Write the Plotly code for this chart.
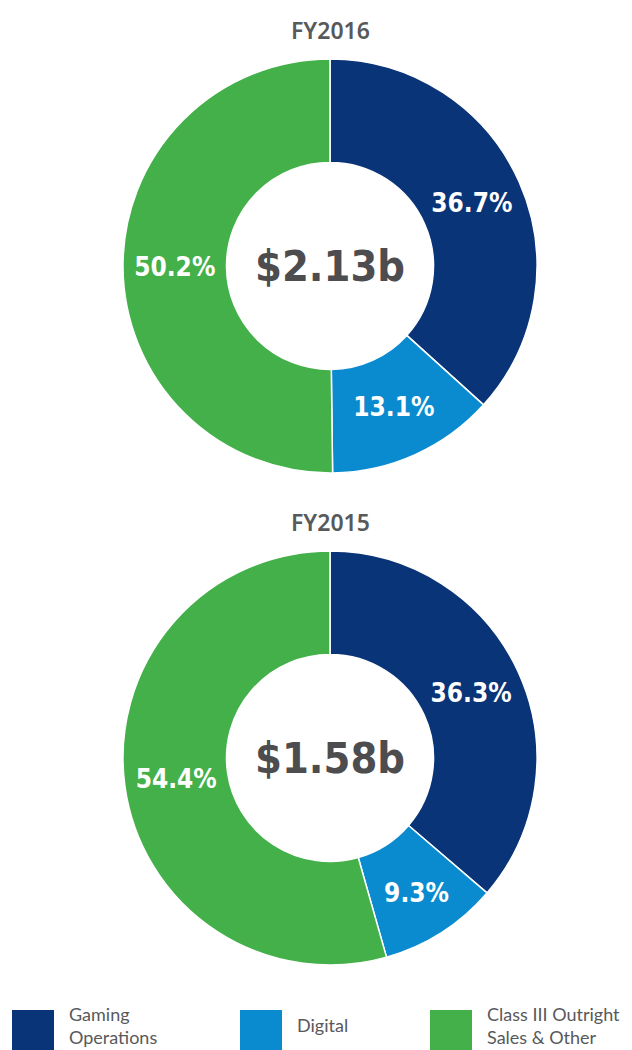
import plotly.graph_objects as go

segments = ["Gaming Operations", "Digital", "Class III Outright Sales & Other"]
fy2016_values = [36.7, 13.1, 50.2]
fy2015_values = [36.3, 9.3, 54.4]
titles = ["FY2016", "FY2015"]
totals = ["$2.13b", "$1.58b"]
legend_labels = ["Gaming<br>Operations", "Digital", "Class III Outright<br>Sales & Other"]
colors = ["#0a3478", "#0a8bcf", "#43b049"]

OFF = 8  # page body margin
W, H = 632 - OFF, 1050 - OFF
cx = 330 - OFF
r = 207
centers_y = [266 - OFF, 758 - OFF]

COND = "DejaVu Sans Condensed, Liberation Sans Narrow, Roboto"

fig = go.Figure()
for vals, cy, title, total in zip([fy2016_values, fy2015_values], centers_y, titles, totals):
    fig.add_trace(go.Pie(
        labels=segments, values=vals, sort=False, direction="clockwise", rotation=0,
        hole=0.5,
        marker=dict(colors=colors, line=dict(color="white", width=1.5)),
        texttemplate="%{value:.1f}%", textposition="inside",
        insidetextorientation="horizontal",
        textfont=dict(family=COND, size=26, color="white", weight="bold"),
        domain=dict(x=[(cx - r) / W, (cx + r) / W], y=[1 - (cy + r) / H, 1 - (cy - r) / H]),
        showlegend=False, hoverinfo="label+percent",
    ))
    fig.add_annotation(x=cx / W, y=1 - cy / H, xref="paper", yref="paper", text=total,
                       showarrow=False, xanchor="center", yanchor="middle",
                       font=dict(family=COND, size=43, color="#4d4d4f", weight="bold"))
    fig.add_annotation(x=cx / W, y=1 - (cy - r - 29) / H, xref="paper", yref="paper", text=title,
                       showarrow=False, xanchor="center", yanchor="middle",
                       font=dict(family="Noto Sans, Lato, Arial", size=23, color="#58595b", weight=600))

legend_x = [12 - OFF, 240 - OFF, 430 - OFF]
for lx, lab, col in zip(legend_x, legend_labels, colors):
    fig.add_shape(type="rect", xref="paper", yref="paper",
                  x0=lx / W, x1=(lx + 42) / W, y0=1 - (1060 - OFF) / H, y1=1 - (1010 - OFF) / H,
                  fillcolor=col, line=dict(width=0))
    fig.add_annotation(x=(lx + 55) / W, y=1 - (1025 - OFF) / H, xref="paper", yref="paper", text=lab,
                       showarrow=False, xanchor="left", yanchor="middle", align="left",
                       font=dict(family="Lato, Noto Sans, Arial", size=18, color="#58595b"))

fig.update_layout(width=W, height=H, margin=dict(l=0, r=0, t=0, b=0),
                  paper_bgcolor="white", plot_bgcolor="white")
fig.write_html("out.html")
